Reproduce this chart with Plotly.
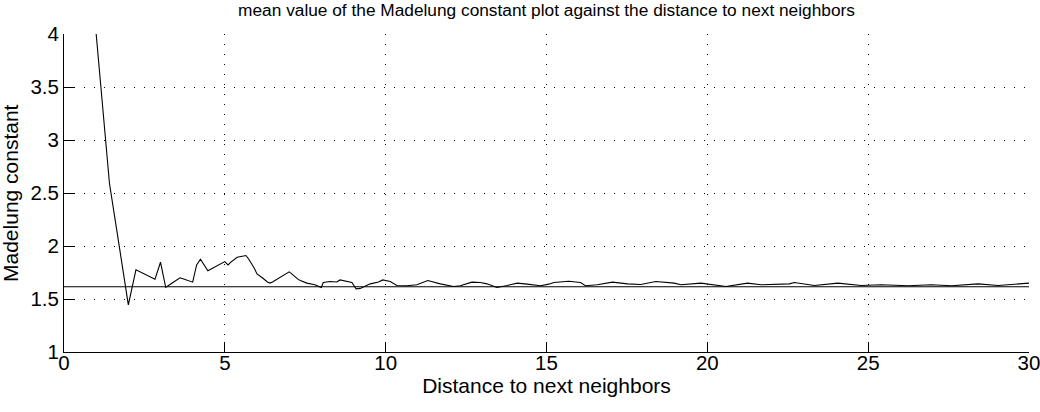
import plotly.graph_objects as go

# distance to next neighbors (x) and mean Madelung constant (y)
distance = [1.0, 1.414, 1.732, 2.0, 2.236, 2.449, 2.828, 3.0, 3.162, 3.317, 3.464, 3.606,
            3.742, 4.0, 4.123, 4.243, 4.472, 4.583, 4.690, 4.899, 5.0, 5.099, 5.196, 5.385,
            5.477, 5.657, 5.745, 5.831, 5.916, 6.0, 6.083, 6.164, 6.325, 6.403, 6.481, 6.557,
            6.633, 6.708, 6.782, 6.928, 7.0, 7.071, 7.141, 7.211, 7.280, 7.348, 7.483, 7.55,
            7.80, 8.0, 8.06, 8.27, 8.48, 8.58, 8.95, 9.08, 9.21, 9.52, 9.78, 9.91, 10.14,
            10.35, 10.66, 10.97, 11.31, 11.70, 12.11, 12.32, 12.68, 12.94, 13.15, 13.46,
            13.78, 14.09, 14.40, 14.81, 15.07, 15.23, 15.69, 16.06, 16.21, 16.58, 17.05,
            17.52, 17.93, 18.40, 18.97, 19.18, 19.80, 20.21, 20.58, 21.25, 21.67, 22.55,
            22.70, 23.33, 24.06, 24.78, 25.40, 26.24, 26.96, 27.59, 28.42, 29.04, 29.87, 30.0]
madelung = [4.0, 2.59, 1.97, 1.445, 1.775, 1.743, 1.687, 1.847, 1.609, 1.641, 1.671, 1.70,
            1.686, 1.659, 1.822, 1.876, 1.766, 1.784, 1.80, 1.836, 1.853, 1.822, 1.85, 1.894,
            1.90, 1.91, 1.875, 1.838, 1.79, 1.737, 1.72, 1.70, 1.66, 1.65, 1.66, 1.675,
            1.685, 1.697, 1.715, 1.74, 1.756, 1.74, 1.72, 1.697, 1.685, 1.674, 1.66, 1.65,
            1.634, 1.609, 1.656, 1.665, 1.66, 1.68, 1.656, 1.596, 1.60, 1.643, 1.66, 1.68, 1.665,
            1.628, 1.625, 1.634, 1.674, 1.643, 1.618, 1.625, 1.659, 1.656, 1.643, 1.609,
            1.628, 1.65, 1.64, 1.625, 1.64, 1.656, 1.668, 1.656, 1.625, 1.634, 1.659,
            1.643, 1.637, 1.665, 1.65, 1.634, 1.65, 1.634, 1.618, 1.65, 1.634, 1.643,
            1.656, 1.628, 1.65, 1.628, 1.634, 1.625, 1.634, 1.625, 1.643, 1.628, 1.65, 1.65]

ref_x = [0, 30]
ref_value = [1.615, 1.615]

x_ticks = [0, 5, 10, 15, 20, 25, 30]
y_ticks = [1, 1.5, 2, 2.5, 3, 3.5, 4]
y_tick_labels = ["1", "1.5", "2", "2.5", "3", "3.5", "4"]

fig = go.Figure()
fig.add_trace(go.Scatter(x=distance, y=madelung, mode="lines",
                         line=dict(color="black", width=1.1), showlegend=False))
fig.add_trace(go.Scatter(x=ref_x, y=ref_value, mode="lines",
                         line=dict(color="black", width=1.1), showlegend=False))

font = "Liberation Sans, Arial, sans-serif"
fig.update_layout(
    width=1040, height=412,
    margin=dict(l=64, r=11, t=34, b=60, autoexpand=False),
    paper_bgcolor="white", plot_bgcolor="white",
    title=dict(text="mean value of the Madelung constant plot against the distance to next neighbors",
               x=0.5, xanchor="center", xref="paper", y=1 - 4 / 412, yanchor="top",
               font=dict(family=font, size=17.3, color="black")),
    font=dict(family=font, color="black"),
    annotations=[dict(text="Madelung constant", textangle=-90, xref="paper", yref="paper",
                      x=0, y=0.5, xanchor="center", yanchor="middle", xshift=-54,
                      showarrow=False, font=dict(size=21, family=font, color="black"))],
)
fig.update_xaxes(range=[0, 30], tickvals=x_ticks, ticks="inside", ticklen=10, tickcolor="black",
                 showline=True, linecolor="black", linewidth=1, mirror=False, automargin=False,
                 showgrid=True, gridcolor="black", gridwidth=1, griddash="1px,9px",
                 zeroline=False, tickfont=dict(size=20.5, family=font), ticklabelstandoff=-8,
                 ticklabeloverflow="allow",
                 title=dict(text="Distance to next neighbors", font=dict(size=21, family=font), standoff=0))
fig.update_yaxes(range=[1, 4], tickvals=y_ticks, ticktext=y_tick_labels, ticks="inside", ticklen=10,
                 tickcolor="black", showline=True, linecolor="black", linewidth=1, mirror=False,
                 automargin=False, ticklabeloverflow="allow",
                 showgrid=True, gridcolor="black", gridwidth=1, griddash="1px,9px",
                 zeroline=False, tickfont=dict(size=20.5, family=font))

fig.write_html("out.html", config={"displayModeBar": False},
               post_script="document.body.style.margin='0';")
